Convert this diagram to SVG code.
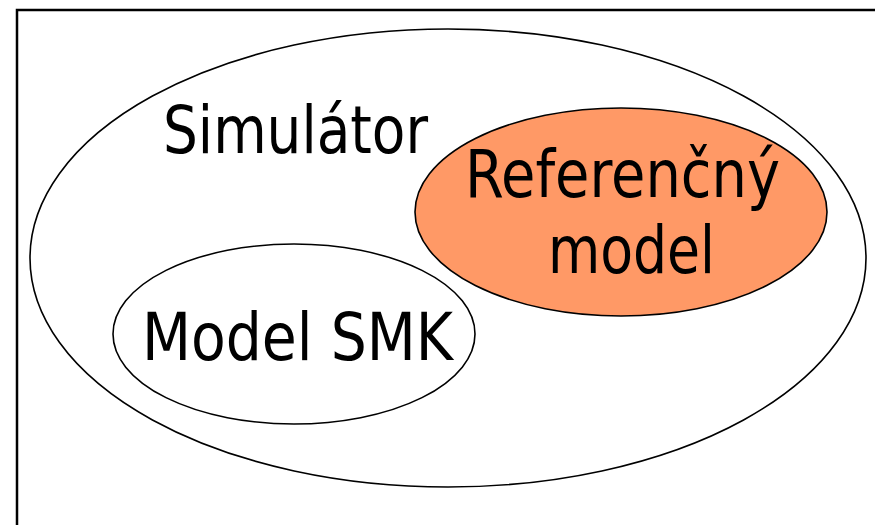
<svg xmlns="http://www.w3.org/2000/svg" width="875" height="525" viewBox="0 0 875 525">
<style>
.frame{fill:none;stroke:#000;stroke-width:2.5}
.ell{stroke:#000;stroke-width:1.6}
.lbl{font-family:"DejaVu Sans Condensed","DejaVu Sans",sans-serif;font-size:66px;fill:#000}
</style>
<rect width="875" height="525" fill="#fff"/>
<rect class="frame" x="17" y="10" width="880" height="540"/>
<g id="simulator">
<ellipse class="ell" cx="448" cy="258" rx="418" ry="229" fill="#fff"/>
<text class="lbl" x="163" y="153" textLength="265" lengthAdjust="spacingAndGlyphs">Simulátor</text>
</g>
<g id="referencny-model">
<ellipse class="ell" cx="621" cy="212" rx="206" ry="104" fill="#FF9966"/>
<text class="lbl" x="465" y="197" textLength="315" lengthAdjust="spacingAndGlyphs">Referenčný</text>
<text class="lbl" x="548" y="273" textLength="167" lengthAdjust="spacingAndGlyphs">model</text>
</g>
<g id="model-smk">
<ellipse class="ell" cx="294" cy="334" rx="181" ry="90" fill="#fff"/>
<text class="lbl" x="142" y="360" textLength="311" lengthAdjust="spacingAndGlyphs">Model SMK</text>
</g>
<g id="connectors"></g>
</svg>
